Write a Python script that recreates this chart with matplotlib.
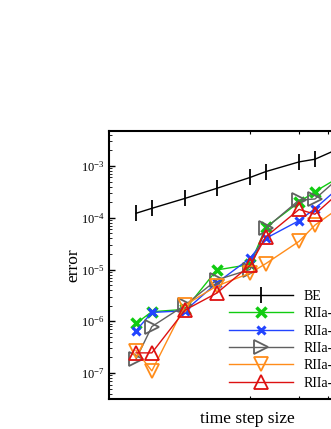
import numpy as np
import matplotlib
matplotlib.use("Agg")
import matplotlib.pyplot as plt
from matplotlib.ticker import LogLocator, FixedLocator, NullFormatter

plt.rcParams['font.family'] = ['Liberation Serif', 'DejaVu Serif']
plt.rcParams['mathtext.fontset'] = 'custom'
plt.rcParams['mathtext.rm'] = 'Liberation Sans'
plt.rcParams['mathtext.it'] = 'Liberation Sans:italic'

# --- data (time step size, error) ---
dt = [0.002, 0.0025, 0.004, 0.00625, 0.01, 0.0125, 0.02, 0.025, 0.04]

err_be    = [1.22e-4, 1.52e-4, 2.37e-4, 3.7e-4, 6.0e-4, 7.8e-4, 1.2e-3, 1.35e-3, 2.6e-3]
err_green = [9.1e-7, 1.53e-6, 1.7e-6, 9.8e-6, 1.25e-5, 6.5e-5, 2.0e-4, 3.2e-4, 7.7e-4]
err_blue  = [6.6e-7, 1.48e-6, 1.6e-6, 5.5e-6, 1.65e-5, 4.0e-5, 8.8e-5, 1.5e-4, 5.5e-4]
err_gray  = [1.86e-7, 7.9e-7, 2.06e-6, 6.3e-6, 1.0e-5, 6.3e-5, 2.2e-4, 2.3e-4, 8.5e-4]
err_orng  = [2.7e-7, 1.1e-7, 2.06e-6, 4.8e-6, 8.5e-6, 1.3e-5, 3.5e-5, 7.2e-5, 2.06e-4]
err_red   = [2.45e-7, 2.45e-7, 1.65e-6, 3.5e-6, 1.2e-5, 4.3e-5, 1.45e-4, 1.17e-4, 4.4e-4]

labels = ['BE', 'RIIa-3', 'RIIa-5', 'RIIa-7', 'RIIa-9', 'RIIa-11']

W, H = 331, 429
fig = plt.figure(figsize=(W / 100, H / 100), dpi=100)
# axes run past the right edge, as in the cropped original
ax = fig.add_axes([109 / W, 1 - 399 / H, (386 - 109) / W, (399 - 131) / H])

ax.plot(dt, err_be, color='black', lw=1.0, marker='|', ms=12, mew=1.3, label=labels[0])
ax.plot(dt, err_green, color='#11cc11', lw=1.0, marker='x', ms=7.5, mew=2.5, label=labels[1])
ax.plot(dt, err_blue, color='#2244ff', lw=1.0, marker='x', ms=5.5, mew=2.2, label=labels[2])
ax.plot(dt, err_gray, color='#606060', lw=1.0, marker='>', ms=9.5, mew=1.3, mfc='none', label=labels[3])
ax.plot(dt, err_orng, color='#ff8c1a', lw=1.0, marker='v', ms=9.5, mew=1.3, mfc='none', label=labels[4])
ax.plot(dt, err_red, color='#dd1111', lw=1.0, marker='^', ms=9.5, mew=1.3, mfc='none', label=labels[5])

ax.set_xscale('log')
ax.set_yscale('log')
ax.set_xlim(1.365e-3, 0.0682)
ax.set_ylim(3.15e-8, 4.74e-3)

ax.xaxis.set_major_locator(FixedLocator([0.01, 0.02, 0.03, 0.04, 0.05, 0.06]))
ax.xaxis.set_minor_locator(FixedLocator([]))
ax.xaxis.set_major_formatter(NullFormatter())
ax.xaxis.set_minor_formatter(NullFormatter())
ax.yaxis.set_major_locator(LogLocator(base=10, numticks=20))
ax.yaxis.set_minor_locator(LogLocator(base=10, subs=np.arange(2, 10), numticks=20))
ax.yaxis.set_minor_formatter(NullFormatter())

ax.tick_params(axis='x', which='both', direction='in', top=True, bottom=True, length=2.5, width=0.8)
ax.tick_params(axis='y', which='major', direction='in', left=True, right=True, length=4.5, width=1.0,
               labelsize=9, pad=3)
ax.tick_params(axis='y', which='minor', direction='in', left=True, right=True, length=2.2, width=0.6)
for s in ax.spines.values():
    s.set_linewidth(1.5)

ax.set_xlabel('time step size', fontsize=12.5)
ax.set_ylabel('error', fontsize=12.5)
ax.xaxis.set_label_coords(0.5, -12 / (399 - 131))
ax.yaxis.set_label_coords(-(109 - 81) / (386 - 109), 0.5)

fig.legend(loc='upper left', bbox_to_anchor=(229 / W, 1 - 290 / H), frameon=False,
           fontsize=10, handlelength=4.6, handletextpad=0.8, labelspacing=0.31,
           borderpad=0, borderaxespad=0)

fig.savefig('out.png', dpi=100)
